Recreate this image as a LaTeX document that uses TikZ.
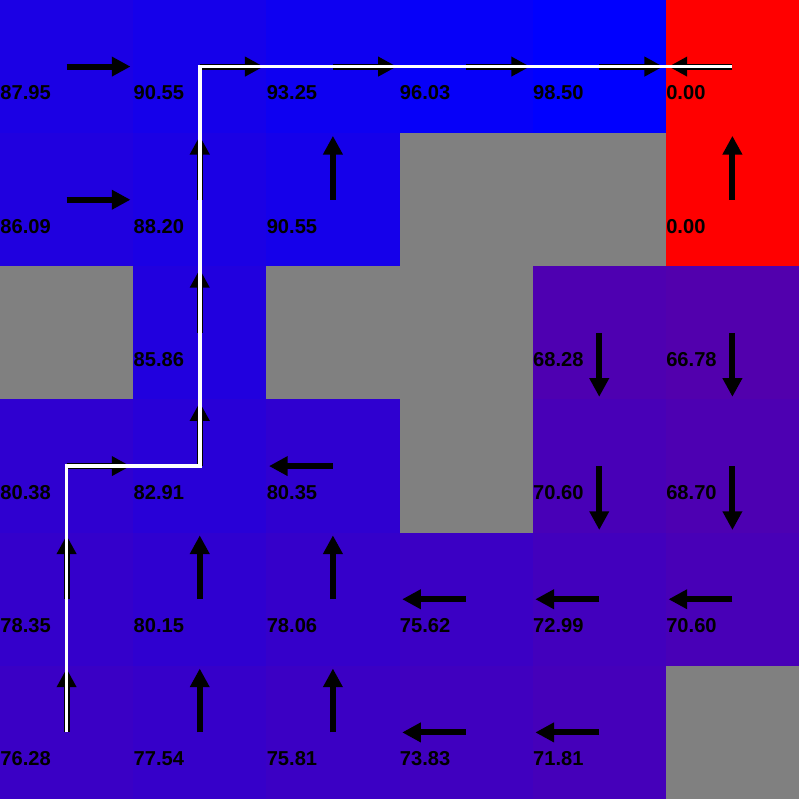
\documentclass[tikz,border=0pt]{standalone}
\usepackage{fontspec}
\setmainfont{Liberation Sans}
\usepackage{xcolor}
\usepackage{tikz}
\usetikzlibrary{arrows.meta}
\definecolor{Wall}{RGB}{128,128,128}

\begin{document}
\begin{tikzpicture}[
    x=2cm,y=2cm,
    wall/.style={fill=Wall},
    val/.style={anchor=base west,inner sep=0pt,text=black,
      font=\bfseries\fontsize{8.6}{10}\selectfont},
    policy/.style={-{Triangle[length=8pt,width=8pt]},line width=2.6pt,draw=black},
    route/.style={draw=white,line width=1.5pt}
]
\useasboundingbox (0,0) rectangle (6,6);

\foreach \r/\c/\v in {0/0/87.95,0/1/90.55,0/2/93.25,0/3/96.03,0/4/98.50,0/5/0.00,
    1/0/86.09,1/1/88.20,1/2/90.55,1/5/0.00,
    2/1/85.86,2/4/68.28,2/5/66.78,
    3/0/80.38,3/1/82.91,3/2/80.35,3/4/70.60,3/5/68.70,
    4/0/78.35,4/1/80.15,4/2/78.06,4/3/75.62,4/4/72.99,4/5/70.60,
    5/0/76.28,5/1/77.54,5/2/75.81,5/3/73.83,5/4/71.81}{
  \pgfmathsetmacro{\pct}{\v/98.5*100}
  \fill[blue!\pct!red] (\c,5-\r) rectangle ++(1,1);
  \node[val] (v-\r-\c) at (\c,5.25-\r) {\v};
}

\foreach \r/\c in {1/3,1/4,2/0,2/2,2/3,3/3,5/5}
  \fill[wall] (\c,5-\r) rectangle ++(1,1);

\foreach \r in {0,...,5}
  \foreach \c in {0,...,5}
    \coordinate (p-\r-\c) at (\c+0.5,5.5-\r);

\foreach \r/\c/\dx/\dy in {0/0/1/0,0/1/1/0,0/2/1/0,0/3/1/0,0/4/1/0,0/5/-1/0,
    1/0/1/0,1/1/0/1,1/2/0/1,1/5/0/1,
    2/1/0/1,2/4/0/-1,2/5/0/-1,
    3/0/1/0,3/1/0/1,3/2/-1/0,3/4/0/-1,3/5/0/-1,
    4/0/0/1,4/1/0/1,4/2/0/1,4/3/-1/0,4/4/-1/0,4/5/-1/0,
    5/0/0/1,5/1/0/1,5/2/0/1,5/3/-1/0,5/4/-1/0}
  \draw[policy] (p-\r-\c) -- ++(0.48*\dx,0.48*\dy);

\draw[route] (p-5-0) -- (p-3-0) -- (p-3-1) -- (p-0-1) -- (p-0-5);
\end{tikzpicture}
\end{document}
